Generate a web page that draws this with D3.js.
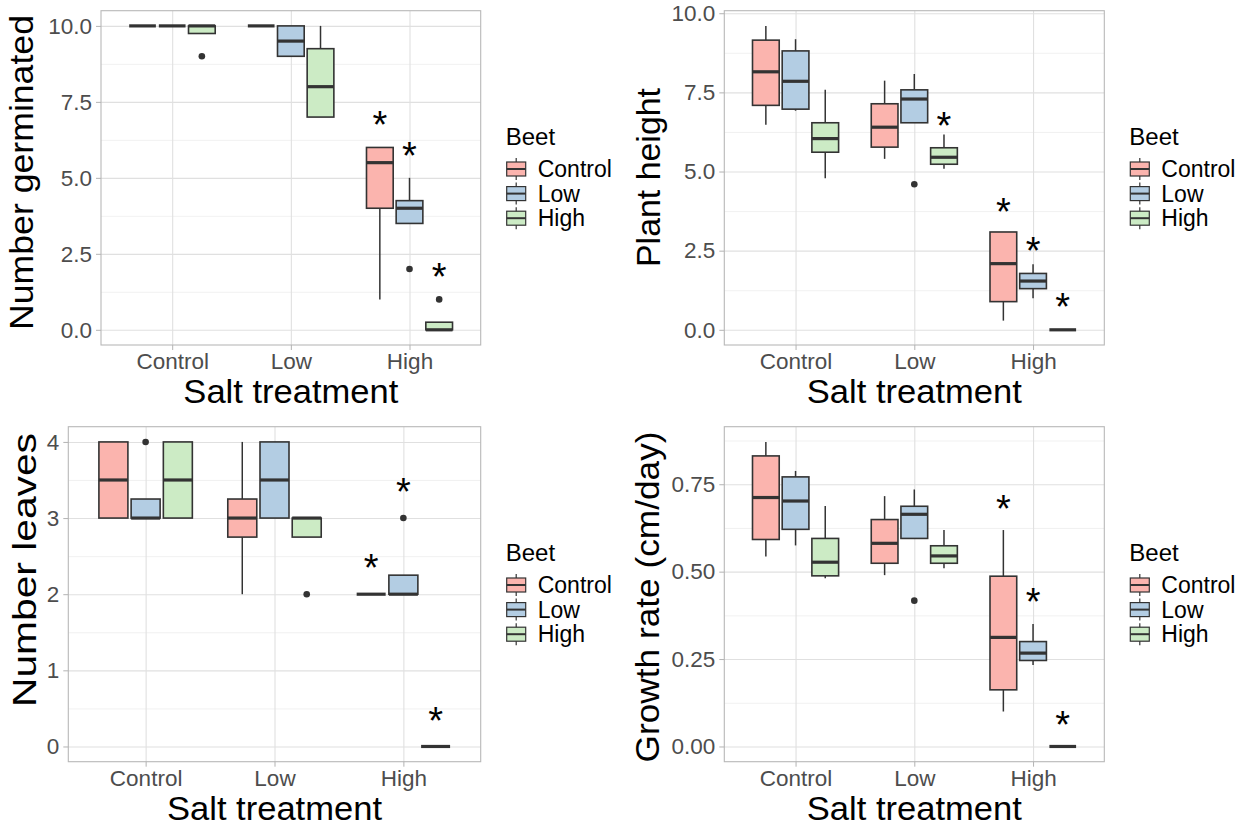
<!DOCTYPE html>
<html><head><meta charset="utf-8">
<script src="https://cdn.jsdelivr.net/npm/d3@7"></script>
<style>
body{margin:0;background:#fff;}
svg{display:block;font-family:"Liberation Sans",Arial,Helvetica,sans-serif;}
</style>
</head><body>
<svg id="chart" width="1247" height="826"></svg>
<script>
// ---------- data ----------
const treatments = ["Control", "Low", "High"];
const beets = ["Control", "Low", "High"];
const beetColors = ["#FBB4AE", "#B3CDE3", "#CCEBC5"];
const xTitle = "Salt treatment";
const legendTitle = "Beet";

// rows: [salt treatment, beet, whisker low, q1, median, q3, whisker high]
const germinatedBoxes = [
  ["Control","Control",10,10,10,10,10],
  ["Control","Low",10,10,10,10,10],
  ["Control","High",9.75,9.75,10,10,10],
  ["Low","Control",10,10,10,10,10],
  ["Low","Low",9,9,9.5,10,10],
  ["Low","High",7,7,8,9.25,10],
  ["High","Control",1,4,5.5,6,6],
  ["High","Low",3.5,3.5,4,4.25,5],
  ["High","High",0,0,0,0.25,0.25]
];
const germinatedOutliers = [["Control","High",9],["High","Low",2],["High","High",1]];
const germinatedStars = [["High","Control",7.05],["High","Low",6.03],["High","High",2.07]];
const germinatedTicks = [0, 2.5, 5, 7.5, 10];
const germinatedTickLabels = ["0.0","2.5","5.0","7.5","10.0"];

const heightBoxes = [
  ["Control","Control",6.48,7.09,8.15,9.15,9.6],
  ["Control","Low",6.92,6.97,7.85,8.81,9.18],
  ["Control","High",4.79,5.61,6.04,6.54,7.58],
  ["Low","Control",5.40,5.77,6.40,7.14,7.87],
  ["Low","Low",6.54,6.54,7.29,7.58,8.08],
  ["Low","High",5.09,5.23,5.45,5.75,6.17],
  ["High","Control",0.29,0.89,2.09,3.09,3.09],
  ["High","Low",1.0,1.30,1.54,1.78,2.07],
  ["High","High",0,0,0,0,0]
];
const heightOutliers = [["Low","Low",4.60]];
const heightStars = [["Low","High",6.75],["High","Control",4.04],["High","Low",2.81],["High","High",1.02]];
const heightTicks = [0, 2.5, 5, 7.5, 10];
const heightTickLabels = ["0.0","2.5","5.0","7.5","10.0"];

const leavesBoxes = [
  ["Control","Control",3,3,3.5,4,4],
  ["Control","Low",3,3,3,3.25,3.25],
  ["Control","High",3,3,3.5,4,4],
  ["Low","Control",2,2.75,3,3.25,4],
  ["Low","Low",3,3,3.5,4,4],
  ["Low","High",2.75,2.75,3,3,3],
  ["High","Control",2,2,2,2,2],
  ["High","Low",2,2,2,2.25,2.25],
  ["High","High",0,0,0,0,0]
];
const leavesOutliers = [["Control","Low",4],["Low","High",2],["High","Low",3]];
const leavesStars = [["High","Control",2.47],["High","Low",3.47],["High","High",0.46]];
const leavesTicks = [0, 1, 2, 3, 4];
const leavesTickLabels = ["0","1","2","3","4"];

const growthBoxes = [
  ["Control","Control",0.543,0.592,0.712,0.831,0.871],
  ["Control","Low",0.575,0.621,0.702,0.771,0.788],
  ["Control","High",0.481,0.488,0.527,0.595,0.688],
  ["Low","Control",0.490,0.524,0.581,0.649,0.716],
  ["Low","Low",0.595,0.595,0.664,0.687,0.735],
  ["Low","High",0.510,0.524,0.545,0.574,0.619],
  ["High","Control",0.100,0.162,0.312,0.487,0.619],
  ["High","Low",0.233,0.246,0.267,0.300,0.350],
  ["High","High",0,0,0,0,0]
];
const growthOutliers = [["Low","Low",0.417]];
const growthStars = [["High","Control",0.706],["High","Low",0.44],["High","High",0.09]];
const growthTicks = [0, 0.25, 0.5, 0.75];
const growthTickLabels = ["0.00","0.25","0.50","0.75"];

// ---------- layout ----------
const panels = [
  {title:"Number germinated", boxes:germinatedBoxes, outliers:germinatedOutliers, stars:germinatedStars,
   ticks:germinatedTicks, labels:germinatedTickLabels, left:101, top:10.7, width:379.7, height:334.3,
   titleX:33, titleY:172.5, titleLen:315},
  {title:"Plant height", boxes:heightBoxes, outliers:heightOutliers, stars:heightStars,
   ticks:heightTicks, labels:heightTickLabels, left:724.3, top:10.7, width:380, height:334.3,
   titleX:660, titleY:177.5, titleLen:179},
  {title:"Number leaves", boxes:leavesBoxes, outliers:leavesOutliers, stars:leavesStars,
   ticks:leavesTicks, labels:leavesTickLabels, left:68.3, top:426.7, width:412.4, height:335,
   titleX:36, titleY:570, titleLen:274},
  {title:"Growth rate (cm/day)", boxes:growthBoxes, outliers:growthOutliers, stars:growthStars,
   ticks:growthTicks, labels:growthTickLabels, left:724.3, top:426.7, width:380, height:335,
   titleX:659, titleY:597, titleLen:331}
];

const svg = d3.select("#chart");
const color = d3.scaleOrdinal().domain(beets).range(beetColors);
const boxStroke = "#333333";

panels.forEach(p => {
  const g = svg.append("g");
  const bottom = p.top + p.height, right = p.left + p.width;
  const x = d3.scalePoint().domain(treatments).range([p.left, right]).padding(0.6);
  const step = x.step();
  const xb = d3.scaleBand().domain(beets).range([-0.375*step, 0.375*step]).paddingInner(0.1).paddingOuter(0.05);
  const vals = p.boxes.flatMap(r => [r[2], r[6]]).concat(p.outliers.map(o => o[2]));
  const [mn, mx] = d3.extent(vals);
  const pad = (mx - mn) * 0.05;
  const y = d3.scaleLinear().domain([mn - pad, mx + pad]).range([bottom, p.top]);

  // minor grid
  const tStep = p.ticks[1] - p.ticks[0];
  const minors = d3.range(p.ticks[0] - tStep/2, p.ticks[p.ticks.length-1] + tStep, tStep)
    .filter(v => v >= y.domain()[0] && v <= y.domain()[1]);
  g.append("g").attr("transform", `translate(${p.left},0)`)
    .call(d3.axisLeft(y).tickValues(minors).tickSize(-p.width).tickFormat(""))
    .call(a => { a.select(".domain").remove(); a.selectAll("line").attr("stroke", "#EDEDED").attr("stroke-width", 0.8); });
  // major grid
  g.append("g").attr("transform", `translate(${p.left},0)`)
    .call(d3.axisLeft(y).tickValues(p.ticks).tickSize(-p.width).tickFormat(""))
    .call(a => { a.select(".domain").remove(); a.selectAll("line").attr("stroke", "#E0E0E0").attr("stroke-width", 1.1); });
  g.append("g").attr("transform", `translate(0,${bottom})`)
    .call(d3.axisBottom(x).tickSize(-p.height).tickFormat(""))
    .call(a => { a.select(".domain").remove(); a.selectAll("line").attr("stroke", "#E0E0E0").attr("stroke-width", 1.1); });

  // boxes
  const cx = (t, b) => x(t) + xb(b) + xb.bandwidth()/2;
  const bw = xb.bandwidth();
  const bx = g.append("g").selectAll("g").data(p.boxes).join("g");
  bx.append("line").attr("x1", d => cx(d[0], d[1])).attr("x2", d => cx(d[0], d[1]))
    .attr("y1", d => y(d[5])).attr("y2", d => y(d[6])).attr("stroke", boxStroke).attr("stroke-width", 1.5);
  bx.append("line").attr("x1", d => cx(d[0], d[1])).attr("x2", d => cx(d[0], d[1]))
    .attr("y1", d => y(d[3])).attr("y2", d => y(d[2])).attr("stroke", boxStroke).attr("stroke-width", 1.5);
  bx.append("rect").attr("x", d => cx(d[0], d[1]) - bw/2).attr("width", bw)
    .attr("y", d => y(d[5])).attr("height", d => y(d[3]) - y(d[5]))
    .attr("fill", d => color(d[1])).attr("stroke", boxStroke).attr("stroke-width", 1.6);
  bx.append("line").attr("x1", d => cx(d[0], d[1]) - bw/2).attr("x2", d => cx(d[0], d[1]) + bw/2)
    .attr("y1", d => y(d[4])).attr("y2", d => y(d[4])).attr("stroke", boxStroke).attr("stroke-width", 3.2);

  // outliers
  g.append("g").selectAll("circle").data(p.outliers).join("circle")
    .attr("cx", d => cx(d[0], d[1])).attr("cy", d => y(d[2])).attr("r", 3.3).attr("fill", boxStroke);

  // stars
  g.append("g").selectAll("text").data(p.stars).join("text")
    .attr("x", d => cx(d[0], d[1])).attr("y", d => y(d[2])).attr("dy", "0.6em")
    .attr("text-anchor", "middle").attr("font-size", 38).attr("fill", "#000").text("*");

  // border
  g.append("rect").attr("x", p.left).attr("y", p.top).attr("width", p.width).attr("height", p.height)
    .attr("fill", "none").attr("stroke", "#B8B8B8").attr("stroke-width", 1.1);

  // axes
  g.append("g").attr("transform", `translate(${p.left},0)`)
    .call(d3.axisLeft(y).tickValues(p.ticks).tickFormat((d, i) => p.labels[i]).tickSize(5).tickPadding(4))
    .call(a => { a.select(".domain").remove();
      a.selectAll("line").attr("stroke", "#B3B3B3");
      a.selectAll("text").attr("font-size", 22.5).attr("fill", "#4D4D4D").attr("font-family", null); });
  g.append("g").attr("transform", `translate(0,${bottom})`)
    .call(d3.axisBottom(x).tickSize(5).tickPadding(3))
    .call(a => { a.select(".domain").remove();
      a.selectAll("line").attr("stroke", "#B3B3B3");
      a.selectAll("text").attr("font-size", 22.5).attr("fill", "#4D4D4D").attr("font-family", null); });

  // titles
  g.append("text").attr("x", (p.left + right)/2).attr("y", bottom + 58)
    .attr("text-anchor", "middle").attr("font-size", 33).attr("fill", "#000")
    .attr("textLength", 215).attr("lengthAdjust", "spacingAndGlyphs").text(xTitle);
  g.append("text").attr("transform", `translate(${p.titleX},${p.titleY}) rotate(-90)`)
    .attr("text-anchor", "middle").attr("font-size", 32.5).attr("fill", "#000")
    .attr("textLength", p.titleLen).attr("lengthAdjust", "spacingAndGlyphs").text(p.title);

  // legend
  const lx = right + 26, ly = p.top;
  const lg = g.append("g");
  lg.append("text").attr("x", lx - 1).attr("y", ly + 134.7).attr("font-size", 24).attr("fill", "#000").text(legendTitle);
  const items = lg.selectAll("g.item").data(beets).join("g").attr("class", "item")
    .attr("transform", (d, i) => `translate(${lx},${ly + 158.3 + i*24.6})`);
  items.append("line").attr("x1", 9.5).attr("x2", 9.5).attr("y1", -11).attr("y2", 11).attr("stroke", boxStroke).attr("stroke-width", 1.2);
  items.append("rect").attr("x", 0).attr("y", -7).attr("width", 19).attr("height", 14)
    .attr("fill", d => color(d)).attr("stroke", boxStroke).attr("stroke-width", 1.2);
  items.append("line").attr("x1", 0).attr("x2", 19).attr("y1", 0).attr("y2", 0).attr("stroke", boxStroke).attr("stroke-width", 2);
  items.append("text").attr("x", 31).attr("y", 8).attr("font-size", 23).attr("fill", "#000").text(d => d);
});
</script>
</body></html>
